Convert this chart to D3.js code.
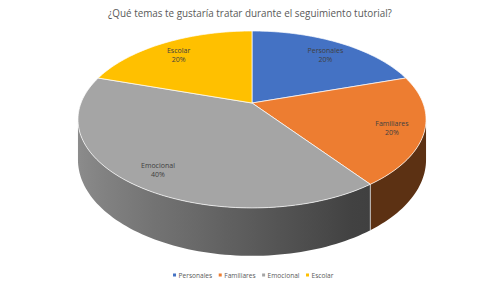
<!DOCTYPE html>
<html>
<head>
<meta charset="utf-8">
<script src="https://cdn.jsdelivr.net/npm/d3@7.9.0/dist/d3.min.js"></script>
<style>
  html, body { margin: 0; padding: 0; background: #fff; }
  svg { display: block; font-family: 'Open Sans', 'Noto Sans', sans-serif; }
</style>
</head>
<body>
<div id="chart"></div>
<script>
// data
const title = '¿Qué temas te gustaría tratar durante el seguimiento tutorial?';
const categories = ['Personales', 'Familiares', 'Emocional', 'Escolar'];
const values = [20, 20, 40, 20];
const colors = ['#4472C4', '#ED7D31', '#A5A5A5', '#FFC000'];

const width = 502;
const height = 286;

const svg = d3.select('#chart')
    .append('svg')
    .attr('width', width)
    .attr('height', height);

const defs = svg.append('defs');

// perspective disc: centre, radii, depth of the side wall
const cx = 252, cy = 103;
const rx = 171, ry = 85.4, persp = 0.186, depth = 39;

function proj(angle, r, drop) {
    const u = r * Math.sin(angle);
    const v = r * Math.cos(angle);
    const w = 1 / (1 + persp * v);
    return [cx + rx * u * w, cy - ry * v * w + drop * w];
}

// wall shading: light from the left, flat dark on the right
function shade(color, angle) {
    const f = Math.max(0.39, 0.55 - 0.31 * Math.sin(angle));
    const c = d3.rgb(color);
    return d3.rgb(c.r * f, c.g * f, c.b * f).formatHex();
}

const pie = d3.pie().sort(null).value(d => d.value);
const slices = pie(categories.map((c, i) => ({ name: c, value: values[i], color: colors[i] })));
const total = d3.sum(values);

const line = d3.line();
const step = Math.PI / 120;

// silhouette angles (extreme x of the rim) -> visible wall range
let aRight = Math.PI / 2, aLeft = 3 * Math.PI / 2;
for (let a = 0; a <= Math.PI; a += 0.002) {
    if (proj(a, 1, 0)[0] > proj(aRight, 1, 0)[0]) aRight = a;
}
for (let a = Math.PI; a <= 2 * Math.PI; a += 0.002) {
    if (proj(a, 1, 0)[0] < proj(aLeft, 1, 0)[0]) aLeft = a;
}

const walls = slices
    .map((s, i) => ({ s, i, a0: Math.max(s.startAngle, aRight), a1: Math.min(s.endAngle, aLeft) }))
    .filter(d => d.a1 > d.a0);

walls.forEach(d => {
    const xa = proj(d.a0, 1, 0)[0], xb = proj(d.a1, 1, 0)[0];
    const g = defs.append('linearGradient')
        .attr('id', 'wall' + d.i)
        .attr('gradientUnits', 'userSpaceOnUse')
        .attr('x1', xb).attr('x2', xa).attr('y1', 0).attr('y2', 0);
    const n = 16;
    for (let k = 0; k <= n; k++) {
        const a = d.a1 - (d.a1 - d.a0) * k / n;
        const x = proj(a, 1, 0)[0];
        g.append('stop')
            .attr('offset', (x - xb) / (xa - xb))
            .attr('stop-color', shade(d.s.data.color, a));
    }
});

svg.append('g').attr('class', 'walls')
    .selectAll('path')
    .data(walls)
    .join('path')
    .attr('d', d => {
        const top = [], bottom = [];
        const n = Math.max(2, Math.ceil((d.a1 - d.a0) / step));
        for (let k = 0; k <= n; k++) {
            const a = d.a0 + (d.a1 - d.a0) * k / n;
            top.push(proj(a, 1, 0));
            bottom.unshift(proj(a, 1, depth));
        }
        return line(top.concat(bottom)) + 'Z';
    })
    .attr('fill', d => `url(#wall${d.i})`);

// light edges between wall segments of different slices
svg.append('g').attr('class', 'wall-edges')
    .selectAll('line')
    .data(slices.filter(s => s.startAngle > aRight && s.startAngle < aLeft))
    .join('line')
    .attr('x1', d => proj(d.startAngle, 1, 0)[0])
    .attr('y1', d => proj(d.startAngle, 1, 0)[1])
    .attr('x2', d => proj(d.startAngle, 1, depth)[0])
    .attr('y2', d => proj(d.startAngle, 1, depth)[1])
    .attr('stroke', '#d9d9d9')
    .attr('stroke-width', 0.8);

// top faces
svg.append('g').attr('class', 'tops')
    .selectAll('path')
    .data(slices)
    .join('path')
    .attr('d', s => {
        const pts = [proj(0, 0, 0)];
        const n = Math.ceil((s.endAngle - s.startAngle) / step);
        for (let k = 0; k <= n; k++) {
            pts.push(proj(s.startAngle + (s.endAngle - s.startAngle) * k / n, 1, 0));
        }
        return line(pts) + 'Z';
    })
    .attr('fill', s => s.data.color)
    .attr('stroke', '#ffffff')
    .attr('stroke-width', 0.7)
    .attr('stroke-linejoin', 'round');

// data labels
const labelR = 0.82;
const labels = svg.append('g').attr('class', 'labels')
    .selectAll('text')
    .data(slices)
    .join('text')
    .attr('text-anchor', 'middle')
    .attr('font-size', 7)
    .attr('fill', '#404040')
    .attr('transform', s => {
        const p = proj((s.startAngle + s.endAngle) / 2, labelR, 0);
        return `translate(${p[0]},${p[1]})`;
    });
labels.append('tspan').attr('x', 0).attr('dy', 0.5).text(s => s.data.name);
labels.append('tspan').attr('x', 0).attr('dy', 9)
    .text(s => Math.round(s.data.value / total * 100) + '%');

// title
const titleText = svg.append('text')
    .attr('x', 250)
    .attr('y', 17)
    .attr('text-anchor', 'middle')
    .attr('font-size', 10)
    .attr('fill', '#595959')
    .text(title);
const tw = titleText.node().getComputedTextLength();
titleText.attr('font-size', 10 * 284 / tw);

// legend
const legend = svg.append('g').attr('class', 'legend');
const items = legend.selectAll('g')
    .data(categories)
    .join('g');
items.append('rect')
    .attr('x', -1.5).attr('y', -1.5)
    .attr('width', 3).attr('height', 3)
    .attr('fill', (d, i) => colors[i]);
items.append('text')
    .attr('x', 4)
    .attr('y', 2.5)
    .attr('font-size', 6.6)
    .attr('fill', '#595959')
    .text(d => d);
let lx = 0;
const offsets = [];
items.each(function () {
    offsets.push(lx);
    lx += d3.select(this).select('text').node().getComputedTextLength() + 4 + 8;
});
const legendW = lx - 8;
items.attr('transform', (d, i) => `translate(${254 - legendW / 2 + offsets[i]},275)`);
</script>
</body>
</html>
